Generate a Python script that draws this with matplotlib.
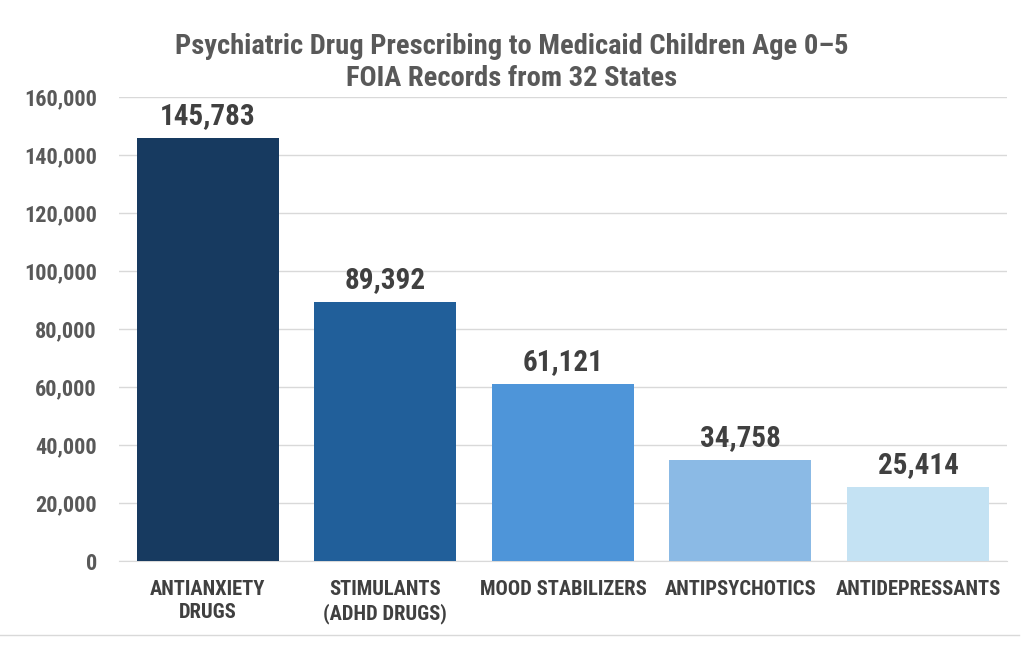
import matplotlib
matplotlib.use("Agg")
import matplotlib.pyplot as plt
from matplotlib import font_manager
from matplotlib.lines import Line2D

categories = ["ANTIANXIETY\nDRUGS", "STIMULANTS\n(ADHD DRUGS)", "MOOD STABILIZERS",
              "ANTIPSYCHOTICS", "ANTIDEPRESSANTS"]
values = [145783, 89392, 61121, 34758, 25414]
colors = ["#173a60", "#215f9a", "#4e95d9", "#8bbae5", "#c4e2f3"]
yticks = [0, 20000, 40000, 60000, 80000, 100000, 120000, 140000, 160000]

names = {f.name for f in font_manager.fontManager.ttflist}
fam = "Roboto"
for cand in ["Liberation Sans Narrow", "Roboto Condensed", "DejaVu Sans Condensed"]:
    if cand in names:
        fam = cand
        break
plt.rcParams["font.family"] = [fam, "DejaVu Sans"]
plt.rcParams["font.weight"] = "bold"

fig = plt.figure(figsize=(10.24, 6.5), dpi=100)
ax = fig.add_axes([0.1162, 0.1369, 0.867, 0.7138])

x = range(len(values))
ax.bar(x, values, width=0.8, color=colors, zorder=3)
ax.set_xlim(-0.5, len(values) - 0.5)
ax.set_ylim(0, 160000)
ax.set_yticks(yticks)
ax.set_yticklabels([f"{v:,}" for v in yticks], fontsize=16, color="#595959", fontweight="bold")
ax.set_xticks(list(x))
ax.set_xticklabels(categories, fontsize=14.8, color="#404040", fontweight="bold", linespacing=1.25)
ax.tick_params(axis="both", length=0)
ax.tick_params(axis="y", pad=16)
ax.tick_params(axis="x", pad=14)
ax.grid(axis="y", color="#d9d9d9", linewidth=1, zorder=0)
for s in ["top", "right", "left"]:
    ax.spines[s].set_visible(False)
ax.spines["bottom"].set_color("#d9d9d9")

for i, v in enumerate(values):
    ax.text(i, v + 2800, f"{v:,}", ha="center", va="bottom", fontsize=21,
            fontweight="bold", color="#404040")

fig.text(0.5, 1 - 62.5 / 650, "Psychiatric Drug Prescribing to Medicaid Children Age 0\u20135\nFOIA Records from 32 States",
         ha="center", va="center", fontsize=20.5, fontweight="bold", color="#595959", linespacing=1.2)

fig.add_artist(Line2D([0.0, 0.995], [1 - 635 / 650, 1 - 635 / 650], transform=fig.transFigure,
                      color="#d9d9d9", linewidth=1))

fig.savefig("out.png", dpi=100)
